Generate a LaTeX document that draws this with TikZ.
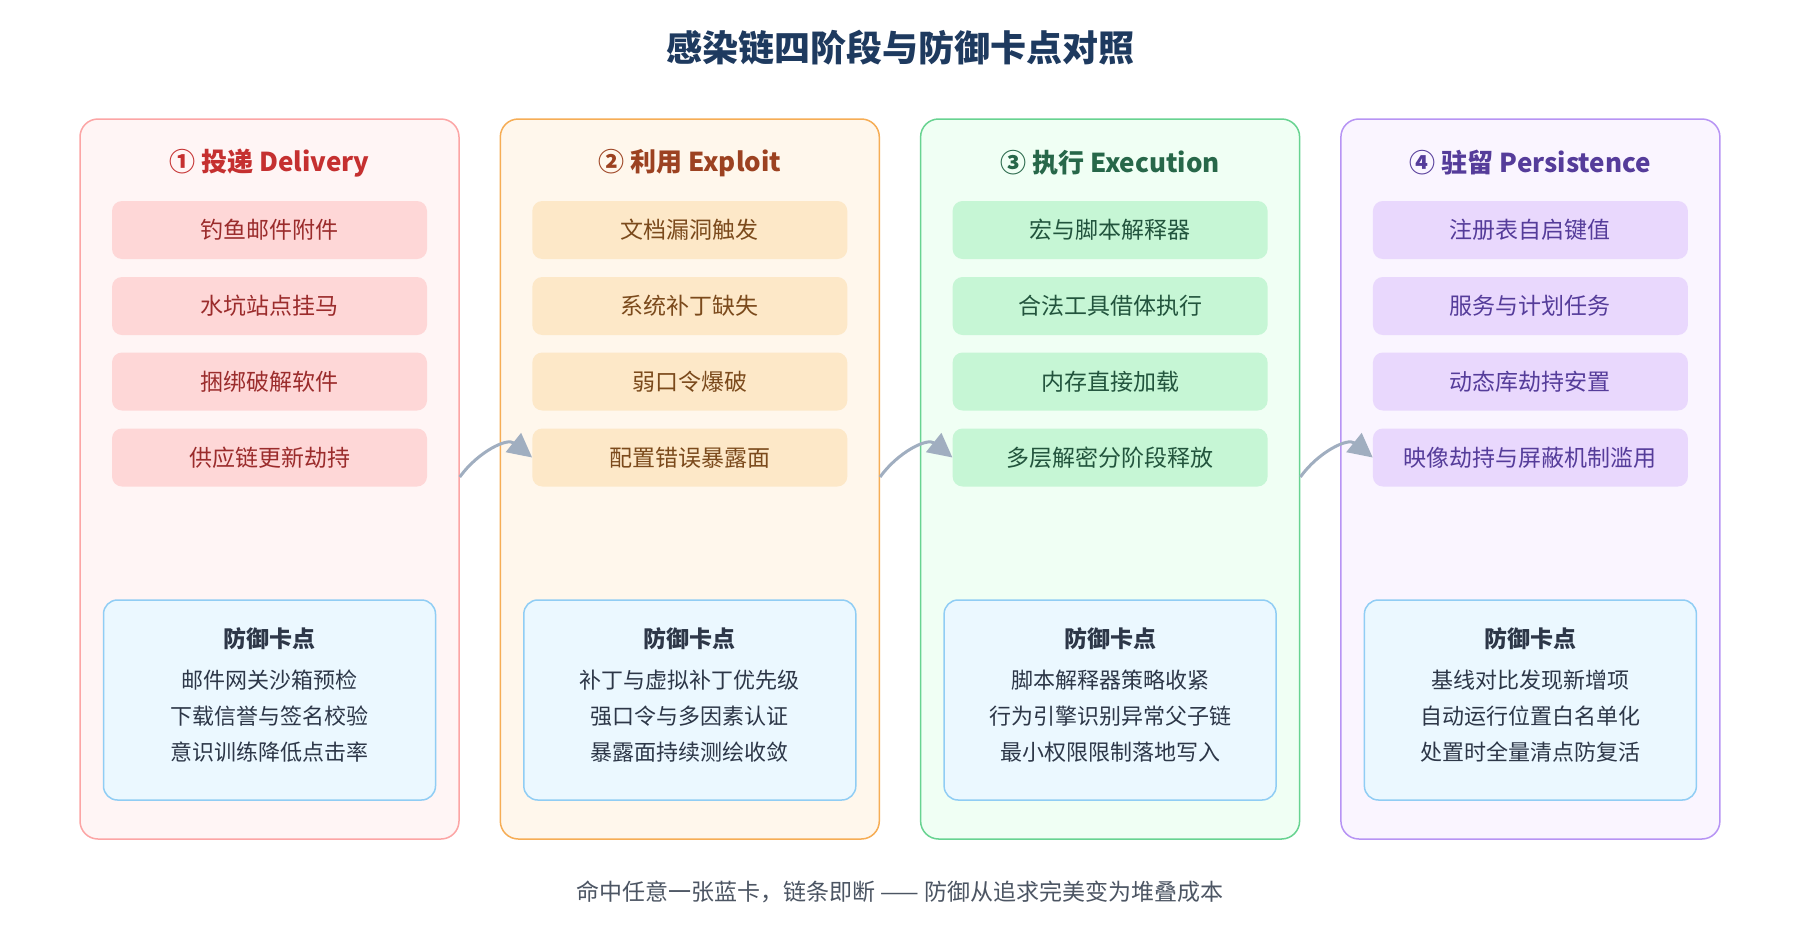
\documentclass[tikz,border=0pt]{standalone}
\usepackage{fontspec}
\setmainfont{Noto Sans CJK SC}
\usetikzlibrary{arrows.meta}
\definecolor{ttl}{HTML}{1E3A5F}
\definecolor{bA}{HTML}{FCA5A5}\definecolor{fA}{HTML}{FFF5F5}\definecolor{iA}{HTML}{FED7D7}\definecolor{tA}{HTML}{9B2C2C}\definecolor{hA}{HTML}{C53030}
\definecolor{bB}{HTML}{F6AD55}\definecolor{fB}{HTML}{FFF7EC}\definecolor{iB}{HTML}{FDE8C8}\definecolor{tB}{HTML}{7B4A1C}\definecolor{hB}{HTML}{9C4221}
\definecolor{bC}{HTML}{68D391}\definecolor{fC}{HTML}{F0FFF4}\definecolor{iC}{HTML}{C6F6D5}\definecolor{tC}{HTML}{22543D}\definecolor{hC}{HTML}{276749}
\definecolor{bD}{HTML}{B794F4}\definecolor{fD}{HTML}{FAF5FF}\definecolor{iD}{HTML}{E9D8FD}\definecolor{tD}{HTML}{553C9A}\definecolor{hD}{HTML}{553C9A}
\definecolor{dfill}{HTML}{EBF8FF}\definecolor{dbord}{HTML}{90CDF4}\definecolor{dtxt}{HTML}{2D3748}\definecolor{arr}{HTML}{A0AEC0}
\tikzset{
 panel/.style={draw=b#1,fill=f#1,line width=1.5pt,rounded corners=18pt,minimum width=379pt,minimum height=720pt,inner sep=0pt},
 item/.style={fill=i#1,text=t#1,rounded corners=10pt,minimum width=315pt,minimum height=58pt,inner sep=0pt,font=\fontsize{23}{28}\selectfont},
 head/.style={text=h#1,font=\fontsize{26}{30}\selectfont\bfseries},
 defb/.style={draw=dbord,fill=dfill,line width=1.5pt,rounded corners=14pt,minimum width=332pt,minimum height=200pt,inner sep=0pt},
 dline/.style={text=dtxt,font=\fontsize{22}{26}\selectfont},
 flow/.style={draw=arr,line width=3pt,-{Triangle[length=24pt,width=24pt]}}
}
\begin{document}
\begin{tikzpicture}[x=1pt,y=-1pt]
\useasboundingbox[fill=white] (0,0) rectangle (1800,940);
\node[text=ttl,font=\fontsize{36}{40}\selectfont\bfseries] (title) at (900,48) {感染链四阶段与防御卡点对照};
\foreach \k/\c/\h/\a/\b/\cc/\d/\ea/\eb/\ec in {
 1/A/{① 投递 Delivery}/钓鱼邮件附件/水坑站点挂马/捆绑破解软件/供应链更新劫持/邮件网关沙箱预检/下载信誉与签名校验/意识训练降低点击率,
 2/B/{② 利用 Exploit}/文档漏洞触发/系统补丁缺失/弱口令爆破/配置错误暴露面/补丁与虚拟补丁优先级/强口令与多因素认证/暴露面持续测绘收敛,
 3/C/{③ 执行 Execution}/宏与脚本解释器/合法工具借体执行/内存直接加载/多层解密分阶段释放/脚本解释器策略收紧/行为引擎识别异常父子链/最小权限限制落地写入,
 4/D/{④ 驻留 Persistence}/注册表自启键值/服务与计划任务/动态库劫持安置/映像劫持与屏蔽机制滥用/基线对比发现新增项/自动运行位置白名单化/处置时全量清点防复活}{
 \pgfmathsetmacro\cx{269.5+420.3*(\k-1)}
 \node[panel=\c] (p\k) at (\cx,479) {};
 \node[head=\c] (h\k) at (\cx,163) {\h};
 \node[item=\c] (i\k a) at (\cx,230) {\a};
 \node[item=\c] (i\k b) at (\cx,306) {\b};
 \node[item=\c] (i\k c) at (\cx,381.5) {\cc};
 \node[item=\c] (i\k d) at (\cx,457.5) {\d};
 \node[defb] (d\k) at (\cx,700) {};
 \node[dline,font=\fontsize{23}{26}\selectfont\bfseries] (dt\k) at (\cx,639) {防御卡点};
 \node[dline] (da\k) at (\cx,680) {\ea};
 \node[dline] (db\k) at (\cx,716) {\eb};
 \node[dline] (dc\k) at (\cx,752) {\ec};
}
\foreach \s/\t in {1/2,2/3,3/4}{
 \draw[flow] (p\s.east |- 0,477) .. controls +(18,-25) and +(-25,-20) .. (i\t d.west);
}
\node[text=dtxt!85,font=\fontsize{23}{28}\selectfont] (foot) at (900,892) {命中任意一张蓝卡，链条即断 —— 防御从追求完美变为堆叠成本};
\end{tikzpicture}
\end{document}
